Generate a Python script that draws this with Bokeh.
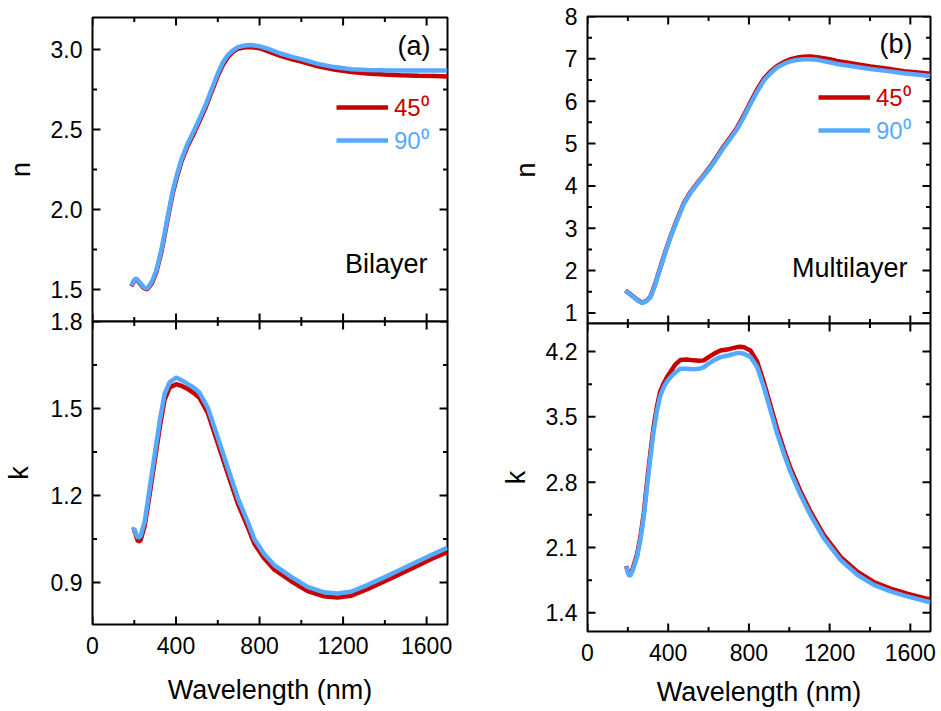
import math
from bokeh.plotting import figure
from bokeh.layouts import row, column
from bokeh.models import LinearAxis, FixedTicker, Legend, LegendItem, Label, Range1d, PrintfTickFormatter
from bokeh.embed import file_html
from bokeh.resources import INLINE

# ---------------- data ----------------
bi_n_wl = [186, 200, 210, 225, 245, 262, 285, 306, 330, 345, 365, 385, 405, 425, 455, 489, 520, 544, 570, 600,
           625, 648, 672, 696, 730, 759, 800, 839, 900, 960, 1000, 1080, 1157, 1240, 1316, 1400, 1475, 1560, 1640, 1700]
bi_n_90 = [1.525, 1.56, 1.57, 1.545, 1.515, 1.505, 1.55, 1.62, 1.75, 1.85, 1.99, 2.12, 2.22, 2.31, 2.41, 2.50, 2.59, 2.66, 2.75, 2.85,
           2.92, 2.965, 2.995, 3.015, 3.025, 3.028, 3.02, 3.005, 2.975, 2.952, 2.94, 2.91, 2.89, 2.877, 2.872, 2.870, 2.869, 2.869, 2.869, 2.869]
bi_n_45 = [1.52, 1.555, 1.565, 1.54, 1.51, 1.50, 1.54, 1.61, 1.735, 1.835, 1.975, 2.105, 2.205, 2.295, 2.395, 2.485, 2.575, 2.645, 2.735, 2.835,
           2.905, 2.952, 2.985, 3.005, 3.014, 3.016, 3.008, 2.99, 2.96, 2.937, 2.925, 2.895, 2.875, 2.86, 2.85, 2.843, 2.839, 2.836, 2.834, 2.832]

bi_k_wl = [189, 200, 210, 218, 230, 250, 274, 298, 322, 345, 369, 401, 430, 457, 485, 512, 552, 600, 648, 696, 743,
           775, 820, 870, 950, 1030, 1109, 1173, 1237, 1316, 1428, 1539, 1620, 1700]
bi_k_90 = [1.082, 1.085, 1.065, 1.053, 1.06, 1.11, 1.226, 1.342, 1.457, 1.55, 1.59, 1.607, 1.596, 1.584, 1.572, 1.555, 1.503, 1.40, 1.295, 1.191, 1.11,
           1.05, 1.0, 0.96, 0.92, 0.885, 0.866, 0.862, 0.868, 0.891, 0.928, 0.966, 0.994, 1.02]
bi_k_45 = [1.080, 1.082, 1.058, 1.041, 1.045, 1.095, 1.205, 1.32, 1.435, 1.53, 1.572, 1.584, 1.577, 1.567, 1.553, 1.537, 1.485, 1.38, 1.275, 1.172, 1.092,
           1.034, 0.985, 0.945, 0.905, 0.87, 0.852, 0.848, 0.854, 0.877, 0.914, 0.952, 0.98, 1.005]

ml_n_wl = [188, 210, 230, 250, 271, 290, 312, 335, 362, 385, 411, 445, 477, 510, 544, 577, 610, 643, 676, 710, 742,
           775, 808, 840, 874, 907, 940, 975, 1006, 1040, 1072, 1105, 1138, 1200, 1237, 1320, 1403, 1490, 1568, 1640, 1700]
ml_n_90 = [1.52, 1.44, 1.366, 1.29, 1.232, 1.27, 1.366, 1.66, 2.073, 2.42, 2.78, 3.20, 3.572, 3.83, 4.045, 4.24, 4.44, 4.67, 4.91, 5.13, 5.345,
           5.63, 5.936, 6.22, 6.487, 6.66, 6.80, 6.885, 6.943, 6.975, 6.99, 6.99, 6.976, 6.92, 6.88, 6.82, 6.76, 6.71, 6.66, 6.625, 6.595]
ml_n_45 = [1.53, 1.45, 1.375, 1.30, 1.24, 1.28, 1.38, 1.68, 2.09, 2.44, 2.80, 3.22, 3.59, 3.85, 4.065, 4.26, 4.465, 4.70, 4.94, 5.16, 5.38,
           5.67, 5.98, 6.27, 6.53, 6.70, 6.83, 6.93, 6.99, 7.03, 7.05, 7.055, 7.04, 6.99, 6.95, 6.885, 6.82, 6.765, 6.71, 6.675, 6.65]

ml_k_wl = [192, 200, 210, 225, 246, 262, 279, 295, 312, 328, 345, 360, 378, 395, 411, 435, 461, 490, 527, 555, 577, 600,
           630, 659, 700, 742, 758, 775, 808, 841, 874, 907, 940, 973, 1006, 1056, 1105, 1171, 1254, 1337, 1419, 1502,
           1584, 1684, 1700]
ml_k_90 = [1.897, 1.83, 1.79, 1.86, 2.003, 2.18, 2.43, 2.75, 3.071, 3.35, 3.571, 3.72, 3.82, 3.88, 3.926, 3.975, 4.016, 4.015, 4.009, 4.015, 4.033, 4.07,
           4.11, 4.14, 4.16, 4.183, 4.183, 4.176, 4.14, 4.033, 3.82, 3.57, 3.32, 3.107, 2.91, 2.662, 2.449, 2.2, 1.968, 1.808, 1.70, 1.629,
           1.576, 1.522, 1.515]
ml_k_45 = [1.90, 1.84, 1.80, 1.88, 2.03, 2.21, 2.47, 2.80, 3.12, 3.40, 3.62, 3.77, 3.86, 3.93, 3.98, 4.06, 4.11, 4.115, 4.105, 4.10, 4.105, 4.14,
           4.18, 4.21, 4.225, 4.247, 4.25, 4.245, 4.21, 4.09, 3.87, 3.62, 3.37, 3.15, 2.95, 2.70, 2.485, 2.235, 2.0, 1.84, 1.73, 1.66,
           1.605, 1.55, 1.545]

x_range = (0, 1700)
x_ticks = [0, 400, 800, 1200, 1600]
x_minor = [200, 600, 1000, 1400]
bi_n_range = (1.3, 3.2)
bi_n_ticks = [1.5, 2.0, 2.5, 3.0]
bi_n_minor = [1.75, 2.25, 2.75]
bi_k_range = (0.755, 1.8)
bi_k_ticks = [0.9, 1.2, 1.5, 1.8]
bi_k_minor = [1.05, 1.35, 1.65]
ml_n_range = (0.75, 8.0)
ml_n_ticks = [1, 2, 3, 4, 5, 6, 7, 8]
ml_n_minor = [1.5, 2.5, 3.5, 4.5, 5.5, 6.5, 7.5]
ml_k_range = (1.2, 4.5)
ml_k_ticks = [1.4, 2.1, 2.8, 3.5, 4.2]
ml_k_minor = [1.75, 2.45, 3.15, 3.85]

labels = ["45\u2070", "90\u2070"]
RED = "#c80000"
BLUE = "#55aaff"
FONT = "Liberation Sans"


def add_axis(p, side, ticks, label, label_standoff, axis_label_standoff, fmt=None):
    ax = LinearAxis(ticker=FixedTicker(ticks=ticks))
    ax.axis_line_color = None
    ax.major_tick_line_color = None
    ax.minor_tick_line_color = None
    ax.major_tick_in = 0
    ax.major_tick_out = 0
    ax.minor_tick_in = 0
    ax.minor_tick_out = 0
    ax.major_label_text_font = FONT
    ax.major_label_text_font_size = "23px"
    ax.major_label_text_color = "black"
    ax.major_label_standoff = label_standoff
    if fmt:
        ax.formatter = PrintfTickFormatter(format=fmt)
    ax.axis_label = label
    ax.axis_label_text_font = FONT
    ax.axis_label_text_font_size = "27px"
    ax.axis_label_text_font_style = "normal"
    ax.axis_label_text_color = "black"
    ax.axis_label_standoff = axis_label_standoff
    p.add_layout(ax, side)
    return ax


def add_ticks(p, yr, yt, ym):
    # inward tick marks on all four frame edges (half of each dash is clipped by the frame)
    n, m = len(yt), len(ym)
    p.scatter([x_range[0]] * n + [x_range[1]] * n, yt + yt, marker="dash", size=16,
              line_color="black", line_width=2)
    p.scatter([x_range[0]] * m + [x_range[1]] * m, ym + ym, marker="dash", size=9,
              line_color="black", line_width=2)
    a, b = len(x_ticks), len(x_minor)
    p.scatter(x_ticks + x_ticks, [yr[0]] * a + [yr[1]] * a, marker="dash", size=16, angle=math.pi / 2,
              line_color="black", line_width=2)
    p.scatter(x_minor + x_minor, [yr[0]] * b + [yr[1]] * b, marker="dash", size=9, angle=math.pi / 2,
              line_color="black", line_width=2)


def make_fig(w, h, bl, br, bt, bb, yr, margin=None):
    kw = {}
    if margin is not None:
        kw["margin"] = margin
    p = figure(width=w, height=h, x_range=Range1d(*x_range), y_range=Range1d(*yr),
               min_border_left=bl, min_border_right=br, min_border_top=bt, min_border_bottom=bb,
               toolbar_location=None, output_backend="svg", x_axis_type=None, y_axis_type=None, **kw)
    p.outline_line_color = "black"
    p.outline_line_width = 2
    p.border_fill_alpha = 0
    return p


def add_lines(p, wl, y45, y90):
    r1 = p.line(wl, y45, line_color=RED, line_width=4.5)
    r2 = p.line(wl, y90, line_color=BLUE, line_width=4.5)
    return r1, r2


def add_legend(p, r1, r2, x, y1, y2):
    for r, lab, col, yy in [(r1, labels[0], RED, y1), (r2, labels[1], BLUE, y2)]:
        lg = Legend(items=[LegendItem(label=lab, renderers=[r])], location=(x, yy),
                    label_text_color=col, label_text_font=FONT, label_text_font_size="24px",
                    glyph_width=52, glyph_height=20, label_height=33, label_standoff=6,
                    padding=0, margin=0, spacing=0, border_line_alpha=0, background_fill_alpha=0)
        p.add_layout(lg)


B_UP = 14   # spare border under the upper frame
B_LO = 16   # spare border over the lower frame (room for the shared "1.8" label)
OV = B_UP + B_LO

# ---------------- left column (bilayer) ----------------
lt = make_fig(459, 17 + 304 + B_UP, 91, 12, 17, B_UP, bi_n_range)
r1, r2 = add_lines(lt, bi_n_wl, bi_n_45, bi_n_90)
add_ticks(lt, bi_n_range, bi_n_ticks, bi_n_minor)
add_axis(lt, "left", bi_n_ticks, "n", 10, 12, fmt="%.1f")
add_legend(lt, r1, r2, 244, 198, 165)
lt.add_layout(Label(x=1619, y=3.025, text="(a)", text_align="right", text_baseline="middle",
                    text_font=FONT, text_font_size="27px", text_color="black"))
lt.add_layout(Label(x=1604, y=1.6625, text="Bilayer", text_align="right", text_baseline="middle",
                    text_font=FONT, text_font_size="27px", text_color="black"))

lb = make_fig(459, B_LO + 303 + 85, 91, 12, B_LO, 85, bi_k_range, margin=(-OV, 0, 0, 0))
add_lines(lb, bi_k_wl, bi_k_45, bi_k_90)
add_ticks(lb, bi_k_range, bi_k_ticks, bi_k_minor)
add_axis(lb, "left", bi_k_ticks, "k", 10, 14, fmt="%.1f")
add_axis(lb, "below", x_ticks, "Wavelength (nm)", 12, 18)

# ---------------- right column (multilayer) ----------------
rt = make_fig(482, 16 + 307 + B_UP, 128, 11, 16, B_UP, ml_n_range)
r1, r2 = add_lines(rt, ml_n_wl, ml_n_45, ml_n_90)
add_ticks(rt, ml_n_range, ml_n_ticks, ml_n_minor)
add_axis(rt, "left", ml_n_ticks, "n", 10, 21)
add_legend(rt, r1, r2, 231, 210, 177)
rt.add_layout(Label(x=1611, y=7.36, text="(b)", text_align="right", text_baseline="middle",
                    text_font=FONT, text_font_size="27px", text_color="black"))
rt.add_layout(Label(x=1586, y=2.07, text="Multilayer", text_align="right", text_baseline="middle",
                    text_font=FONT, text_font_size="27px", text_color="black"))

rb = make_fig(482, B_LO + 309 + 77, 128, 11, B_LO, 77, ml_k_range, margin=(-OV, 0, 0, 0))
add_lines(rb, ml_k_wl, ml_k_45, ml_k_90)
add_ticks(rb, ml_k_range, ml_k_ticks, ml_k_minor)
add_axis(rb, "left", ml_k_ticks, "k", 10, 12, fmt="%.1f")
add_axis(rb, "below", x_ticks, "Wavelength (nm)", 12, 13)

layout = row(column(lt, lb), column(rt, rb))
open("out.html", "w").write(file_html(layout, INLINE))
